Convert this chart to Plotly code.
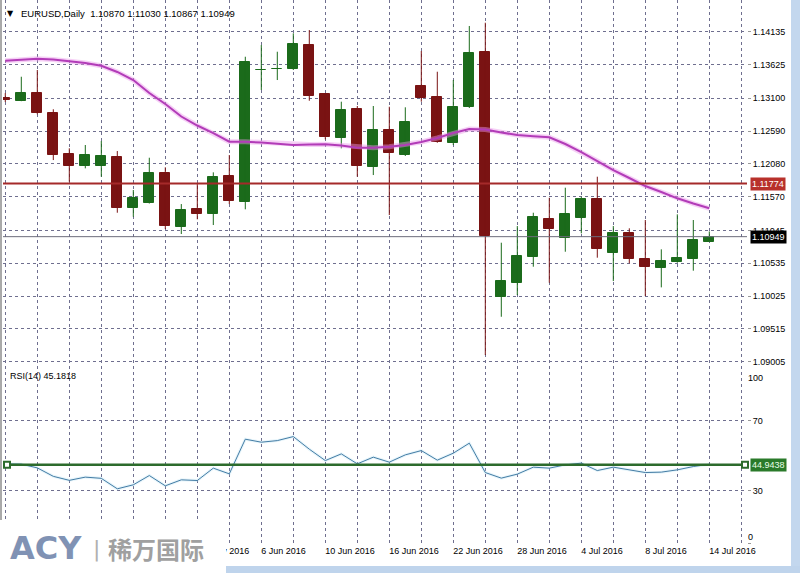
import plotly.graph_objects as go

# ---------------- data ----------------
dates = ["2016-05-13", "2016-05-16", "2016-05-17", "2016-05-18", "2016-05-19", "2016-05-20",
         "2016-05-23", "2016-05-24", "2016-05-25", "2016-05-26", "2016-05-27", "2016-05-30",
         "2016-05-31", "2016-06-01", "2016-06-02", "2016-06-03", "2016-06-06", "2016-06-07",
         "2016-06-08", "2016-06-09", "2016-06-10", "2016-06-13", "2016-06-14", "2016-06-15",
         "2016-06-16", "2016-06-17", "2016-06-20", "2016-06-21", "2016-06-22", "2016-06-23",
         "2016-06-24", "2016-06-27", "2016-06-28", "2016-06-29", "2016-06-30", "2016-07-01",
         "2016-07-04", "2016-07-05", "2016-07-06", "2016-07-07", "2016-07-08", "2016-07-11",
         "2016-07-12", "2016-07-13", "2016-07-14"]

opens = [1.13097, 1.13062, 1.13177, 1.12866, 1.12234, 1.12052, 1.12052, 1.12182, 1.11399, 1.11477,
         1.11938, 1.11104, 1.11379, 1.11301, 1.11892, 1.11492, 1.13535, 1.13550, 1.13555, 1.13928,
         1.13167, 1.12478, 1.12929, 1.12036, 1.12607, 1.12218, 1.13291, 1.13115, 1.12409, 1.12960,
         1.13815, 1.10015, 1.10233, 1.10637, 1.11219, 1.10933, 1.11243, 1.11530, 1.10699, 1.11001,
         1.10601, 1.10466, 1.10555, 1.10606, 1.10870]
highs = [1.13182, 1.13435, 1.13540, 1.12929, 1.12322, 1.12374, 1.12436, 1.12280, 1.11674, 1.12176,
         1.12027, 1.11456, 1.11767, 1.11949, 1.12218, 1.13746, 1.13928, 1.13824, 1.14110, 1.14161,
         1.13177, 1.13047, 1.12980, 1.12980, 1.12969, 1.12960, 1.13835, 1.13513, 1.13384, 1.14224,
         1.14275, 1.10855, 1.11114, 1.11321, 1.11554, 1.11710, 1.11570, 1.11881, 1.11114, 1.11079,
         1.11208, 1.10752, 1.11296, 1.11208, 1.11030]
lows = [1.13042, 1.13055, 1.12851, 1.12140, 1.11803, 1.12011, 1.11881, 1.11321, 1.11259, 1.11464,
        1.11068, 1.10990, 1.11219, 1.11130, 1.11456, 1.11374, 1.13229, 1.13384, 1.13540, 1.13062,
        1.12462, 1.12322, 1.11881, 1.11907, 1.11285, 1.12203, 1.13047, 1.12409, 1.12374, 1.12949,
        1.09109, 1.09704, 1.10042, 1.10482, 1.10233, 1.10715, 1.11001, 1.10622, 1.10259, 1.10535,
        1.10026, 1.10161, 1.10544, 1.10420, 1.10867]
closes = [1.13081, 1.13177, 1.12866, 1.12223, 1.12052, 1.12213, 1.12203, 1.11399, 1.11554, 1.11938,
          1.11119, 1.11363, 1.11301, 1.11876, 1.11508, 1.13669, 1.13544, 1.13560, 1.13944, 1.13135,
          1.12503, 1.12918, 1.12052, 1.12607, 1.12254, 1.12731, 1.13109, 1.12425, 1.12960, 1.13799,
          1.10959, 1.10259, 1.10648, 1.11250, 1.11063, 1.11296, 1.11530, 1.10762, 1.11001, 1.10606,
          1.10472, 1.10570, 1.10617, 1.10897, 1.10949]
ma = [1.13684, 1.13703, 1.13715, 1.13703, 1.13680, 1.13648, 1.13606, 1.13509, 1.13384, 1.13182,
      1.13011, 1.12817, 1.12677, 1.12560, 1.12425, 1.12425, 1.12413, 1.12389, 1.12374, 1.12381,
      1.12385, 1.12366, 1.12332, 1.12332, 1.12347, 1.12374, 1.12420, 1.12483, 1.12560, 1.12622,
      1.12615, 1.12568, 1.12529, 1.12510, 1.12493, 1.12389, 1.12265, 1.12125, 1.11985, 1.11861,
      1.11736, 1.11643, 1.11545, 1.11464, 1.11390]
rsi = [45.4, 45.26, 43.14, 38.29, 36.0, 37.83, 37.14, 31.14, 33.43, 38.74, 32.86, 36.29, 35.89,
       42.97, 39.71, 59.54, 57.83, 58.74, 61.03, 53.83, 47.31, 51.14, 45.43, 49.26, 46.4, 50.57,
       53.03, 47.54, 51.54, 57.26, 40.46, 37.26, 39.54, 43.54, 42.97, 44.86, 45.83, 41.6, 43.54,
       42.0, 40.46, 40.69, 42.0, 43.89, 45.1818]

price_ticks = [1.14135, 1.13625, 1.13100, 1.12590, 1.12080, 1.11570, 1.11045, 1.10535, 1.10025,
               1.09515, 1.09005]
rsi_ticks = [30, 70]
rsi_top_tick = [100]
rsi_bottom_tick = [0]
red_level = 1.11774
rsi_level = 44.9438
symbol = "EURUSD,Daily"
rsi_name = "RSI(14)"

# ---------------- styles ----------------
GREEN = "#1b6b1b"
RED = "#7a1313"
GRID = "#6f6f8f"
FONT = "Liberation Sans"

idx = list(range(len(dates)))
up = [i for i in idx if closes[i] >= opens[i]]
dn = [i for i in idx if closes[i] < opens[i]]


def wick_xy(ids):
    xs, ys = [], []
    for i in ids:
        xs += [i, i, None]
        ys += [lows[i], highs[i], None]
    return xs, ys


fig = go.Figure()

for ids, col in ((up, GREEN), (dn, RED)):
    wx, wy = wick_xy(ids)
    fig.add_trace(go.Scatter(x=wx, y=wy, mode="lines", line=dict(color=col, width=1),
                             xaxis="x", yaxis="y", hoverinfo="skip"))
    fig.add_trace(go.Bar(x=ids,
                         y=[abs(closes[i] - opens[i]) for i in ids],
                         base=[min(opens[i], closes[i]) for i in ids],
                         width=0.62, marker=dict(color=col, line=dict(color=col, width=1)),
                         xaxis="x", yaxis="y"))

# moving average (halo + line)
fig.add_trace(go.Scatter(x=idx, y=ma, mode="lines", line=dict(color="rgba(235,150,235,0.45)", width=5),
                         xaxis="x", yaxis="y", hoverinfo="skip"))
fig.add_trace(go.Scatter(x=idx, y=ma, mode="lines", line=dict(color="#b23cb8", width=2),
                         xaxis="x", yaxis="y"))

# RSI (faint halo + line), on the two overlay scales of the RSI pane
fig.add_trace(go.Scatter(x=idx, y=rsi, mode="lines", line=dict(color="rgba(170,220,240,0.28)", width=3),
                         xaxis="x2", yaxis="y3", hoverinfo="skip"))
fig.add_trace(go.Scatter(x=idx, y=rsi, mode="lines", line=dict(color="#447ca4", width=1),
                         xaxis="x2", yaxis="y4"))

# ---------------- axes ----------------
xr = [-0.14375, 46.35625]
grid_vals = list(range(0, 48, 2))
MONTHS = ["Jan", "Feb", "Mar", "Apr", "May", "Jun", "Jul", "Aug", "Sep", "Oct", "Nov", "Dec"]


def lab(i):
    if i % 4 == 0 and 12 <= i < len(dates):
        y, m, d = dates[i].split("-")
        return f"{int(d)} {MONTHS[int(m) - 1]} {y}"
    return ""


grid_text = [lab(i) for i in grid_vals]

H = 573.0


def py(p):
    return 1 - p / H


TF = dict(family=FONT, size=9, color="black")
axis_common = dict(showline=False, zeroline=False, fixedrange=True,
                   gridcolor=GRID, griddash="3px,3px", gridwidth=1)
rsi_range = [-0.15, 101.43]

fig.update_layout(
    template="none",
    width=800, height=573,
    margin=dict(l=3, r=53, t=0, b=0, autoexpand=False),
    paper_bgcolor="white", plot_bgcolor="white",
    showlegend=False, barmode="overlay", bargap=0,
    font=dict(family=FONT, size=9, color="black"),
    xaxis=dict(domain=[0, 1], range=xr, anchor="y", tickmode="array", tickvals=grid_vals,
               showticklabels=False, showgrid=True, ticks="", **axis_common),
    xaxis2=dict(domain=[0, 1], range=xr, anchor="y2", tickmode="array", tickvals=grid_vals,
                ticktext=grid_text, ticklabelposition="outside right", showgrid=True, ticks="",
                tickfont=TF, **axis_common),
    yaxis=dict(domain=[py(365), 1], range=[1.08954, 1.14628], anchor="x", side="right",
               tickmode="array", tickvals=price_ticks, tickformat=".5f", showgrid=True,
               ticks="outside", ticklen=3, tickcolor="#999999", tickfont=TF, **axis_common),
    yaxis2=dict(domain=[py(543.5), py(366)], range=rsi_range, anchor="x2", side="right",
                tickmode="array", tickvals=[0] + rsi_ticks, ticktext=[""] + [str(v) for v in rsi_ticks],
                showgrid=True, ticks="outside", ticklen=3,
                tickcolor="#999999", tickfont=TF, **axis_common),
    yaxis3=dict(overlaying="y2", range=rsi_range, anchor="x2", side="right",
                tickmode="array", tickvals=rsi_top_tick, showgrid=False, ticks="",
                ticklabelposition="outside bottom", ticklabelshift=3, showline=False, zeroline=False,
                fixedrange=True, tickfont=TF),
    yaxis4=dict(overlaying="y2", range=rsi_range, anchor="x2", side="right",
                tickmode="array", tickvals=rsi_bottom_tick, showgrid=False, ticks="",
                ticklabelposition="outside top", showline=False, zeroline=False, fixedrange=True,
                tickfont=TF),
)

# ---------------- shapes ----------------
shapes = []
shapes.append(dict(type="line", xref="x domain", yref="y", x0=0, x1=1, y0=red_level, y1=red_level,
                   line=dict(color="#a52a2a", width=2)))
shapes.append(dict(type="line", xref="x domain", yref="y", x0=0, x1=1, y0=closes[-1], y1=closes[-1],
                   line=dict(color="#6c6c7c", width=1)))
lx0, lx1 = 0.0054, 0.9973
shapes.append(dict(type="line", xref="x2 domain", yref="y2", x0=lx0, x1=lx1, y0=rsi_level, y1=rsi_level,
                   line=dict(color="#2c6b2c", width=2.5)))
for xa in (lx0, lx1):
    shapes.append(dict(type="rect", xref="x2 domain", yref="y2", xsizemode="pixel", ysizemode="pixel",
                       xanchor=xa, yanchor=rsi_level, x0=-3, x1=3, y0=-3, y1=3,
                       fillcolor="white", line=dict(color="#2c6b2c", width=2)))


def pxx(x):
    return (x - 3) / 744.0


shapes.append(dict(type="rect", xref="paper", yref="paper", x0=pxx(791), x1=pxx(801), y0=0, y1=1,
                   fillcolor="#c3d7ee", line=dict(width=0), layer="above"))
shapes.append(dict(type="rect", xref="paper", yref="paper", x0=pxx(226), x1=pxx(801), y0=-0.01, y1=py(566),
                   fillcolor="#bfd4ec", line=dict(width=0), layer="above"))
shapes.append(dict(type="line", xref="paper", yref="paper", x0=pxx(1), x1=pxx(1), y0=py(520), y1=1,
                   line=dict(color="#555555", width=1), layer="above"))
shapes.append(dict(type="rect", xref="paper", yref="paper", x0=pxx(-2), x1=pxx(226), y0=-0.01, y1=py(520),
                   fillcolor="white", line=dict(width=0), layer="above"))
fig.update_layout(shapes=shapes)

# ---------------- annotations ----------------
ann = []
hdr = f"{symbol}  {opens[-1]:.5f} {highs[-1]:.5f} {lows[-1]:.5f} {closes[-1]:.5f}"
ann.append(dict(text="▼", xref="paper", yref="paper", x=pxx(10), y=py(13), xanchor="center",
                yanchor="middle", showarrow=False, font=dict(family="DejaVu Sans", size=8, color="black")))
ann.append(dict(text=hdr, xref="paper", yref="paper", x=pxx(19), y=py(13), xanchor="left",
                yanchor="middle", showarrow=False, font=dict(family=FONT, size=9.5, color="black")))
ann.append(dict(text=f"{rsi_name} {rsi[-1]:.4f}", xref="paper", yref="paper", x=pxx(8), y=py(376),
                xanchor="left", yanchor="middle", showarrow=False, font=TF))
ann.append(dict(text=f"{red_level:.5f}", xref="paper", yref="y", x=1, xshift=3, y=red_level,
                xanchor="left", yanchor="middle", showarrow=False, bgcolor="#b8312b", borderpad=1,
                font=dict(family=FONT, size=9, color="white")))
ann.append(dict(text=f"{closes[-1]:.5f}", xref="paper", yref="y", x=1, xshift=3, y=closes[-1],
                xanchor="left", yanchor="middle", showarrow=False, bgcolor="black", borderpad=1,
                font=dict(family=FONT, size=9, color="white")))
ann.append(dict(text=f"{rsi_level:.4f}", xref="paper", yref="y2", x=1, xshift=3, y=rsi_level,
                xanchor="left", yanchor="middle", showarrow=False, bgcolor="#2a7a2a", borderpad=1,
                font=dict(family=FONT, size=9, color="#e8ffe8")))
ann.append(dict(text="<b>ACY</b>", xref="paper", yref="paper", x=pxx(8), y=py(548), xanchor="left",
                yanchor="middle", showarrow=False, font=dict(family="DejaVu Sans", size=32, color="#8092b4")))
ann.append(dict(text="|", xref="paper", yref="paper", x=pxx(96), y=py(549), xanchor="center",
                yanchor="middle", showarrow=False, font=dict(family="DejaVu Sans", size=22, color="#b0b0b0")))
ann.append(dict(text="<b>稀万国际</b>", xref="paper", yref="paper", x=pxx(106), y=py(548), xanchor="left",
                yanchor="middle", showarrow=False,
                font=dict(family="Noto Sans CJK SC", size=24, color="#a0a0a0")))
fig.update_layout(annotations=ann)

fig.write_html("out.html", config={"displayModeBar": False},
               post_script="document.body.style.margin='0px';document.body.style.overflow='hidden';")
